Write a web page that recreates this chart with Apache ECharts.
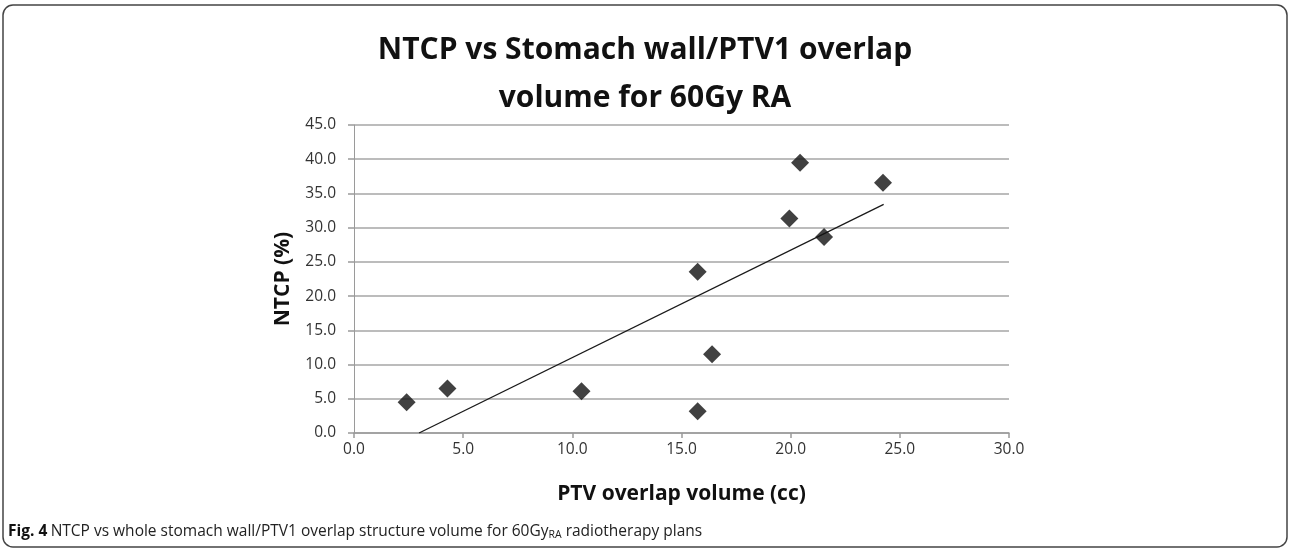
<!DOCTYPE html>
<html>
<head>
<meta charset="utf-8">
<script src="https://cdn.jsdelivr.net/npm/echarts@6/dist/echarts.min.js"></script>
<style>
  html, body { margin: 0; padding: 0; background: #fff; }
  #chart { width: 1290px; height: 551px; }
</style>
</head>
<body>
<div id="chart"></div>
<script>
// overlap volume (cc) vs NTCP (%)
const overlapVolume = [2.41, 4.28, 10.42, 15.74, 15.74, 16.40, 19.94, 20.43, 21.53, 24.23];
const ntcpValues = [4.49, 6.49, 6.10, 23.55, 3.17, 11.51, 31.35, 39.49, 28.62, 36.56];
// linear trendline end points
const trendX = [2.98, 24.26];
const trendY = [0, 33.4];

const points = overlapVolume.map((x, i) => [x, ntcpValues[i]]);
const trendPoints = trendX.map((x, i) => [x, trendY[i]]);

const chart = echarts.init(document.getElementById("chart"));
const option = {
  animation: false,
  textStyle: { fontFamily: "Open Sans" },
  title: {
    text: "NTCP vs Stomach wall/PTV1 overlap\nvolume for 60Gy RA",
    left: "center",
    top: 21,
    textStyle: {
      fontFamily: "Open Sans",
      fontWeight: "bold",
      fontSize: 30,
      lineHeight: 48,
      color: "#111"
    }
  },
  grid: {
    left: 354,
    right: 281,
    top: 125,
    bottom: 118
  },
  xAxis: {
    type: "value",
    min: 0,
    max: 30,
    interval: 5,
    name: "PTV overlap volume (cc)",
    nameLocation: "middle",
    nameGap: 51,
    nameMoveOverlap: false,
    nameTextStyle: { fontWeight: "bold", fontSize: 21, color: "#111" },
    axisLine: { lineStyle: { color: "#9a9a9a", width: 1.5 } },
    axisTick: { show: true, length: 5, lineStyle: { color: "#9a9a9a", width: 1.5 } },
    axisLabel: {
      color: "#333",
      fontSize: 15.5,
      margin: 9,
      formatter: v => v.toFixed(1)
    },
    splitLine: { show: false }
  },
  yAxis: {
    type: "value",
    min: 0,
    max: 45,
    interval: 5,
    name: "NTCP (%)",
    nameLocation: "middle",
    nameRotate: 90,
    nameGap: 60,
    nameMoveOverlap: false,
    nameTextStyle: { fontWeight: "bold", fontSize: 21, color: "#111" },
    axisLine: { show: true, lineStyle: { color: "#9a9a9a", width: 1 } },
    axisTick: { show: true, length: 6, lineStyle: { color: "#9a9a9a", width: 1.5 } },
    axisLabel: {
      color: "#333",
      fontSize: 15.5,
      margin: 18,
      formatter: v => v.toFixed(1)
    },
    splitLine: { lineStyle: { color: "#a6a6a6", width: 1.5 } }
  },
  series: [
    {
      type: "line",
      data: trendPoints,
      symbol: "none",
      lineStyle: { color: "#1a1a1a", width: 1.3 },
      z: 2
    },
    {
      type: "scatter",
      data: points,
      symbol: "diamond",
      symbolSize: [18, 18],
      itemStyle: { color: "#111" },
      z: 3
    }
  ],
  graphic: [
    {
      type: "rect",
      shape: { x: 3, y: 5, width: 1284, height: 542, r: 10 },
      style: { fill: null, stroke: "#444", lineWidth: 1.5 },
      silent: true
    },
    {
      type: "text",
      left: 8,
      top: 522,
      style: {
        text: "{b|Fig. 4} {n|NTCP vs whole stomach wall/PTV1 overlap structure volume for 60Gy}{s|RA}{n| radiotherapy plans}",
        rich: {
          b: { fontFamily: "Open Sans", fontWeight: "bold", fontSize: 15.5, fill: "#111", lineHeight: 20 },
          n: { fontFamily: "Open Sans", fontSize: 15.5, fill: "#222", lineHeight: 20 },
          s: { fontFamily: "Open Sans", fontSize: 10.5, fill: "#222", lineHeight: 20, padding: [8, 0, 0, 0] }
        }
      }
    }
  ]
};
chart.setOption(option);
</script>
</body>
</html>
